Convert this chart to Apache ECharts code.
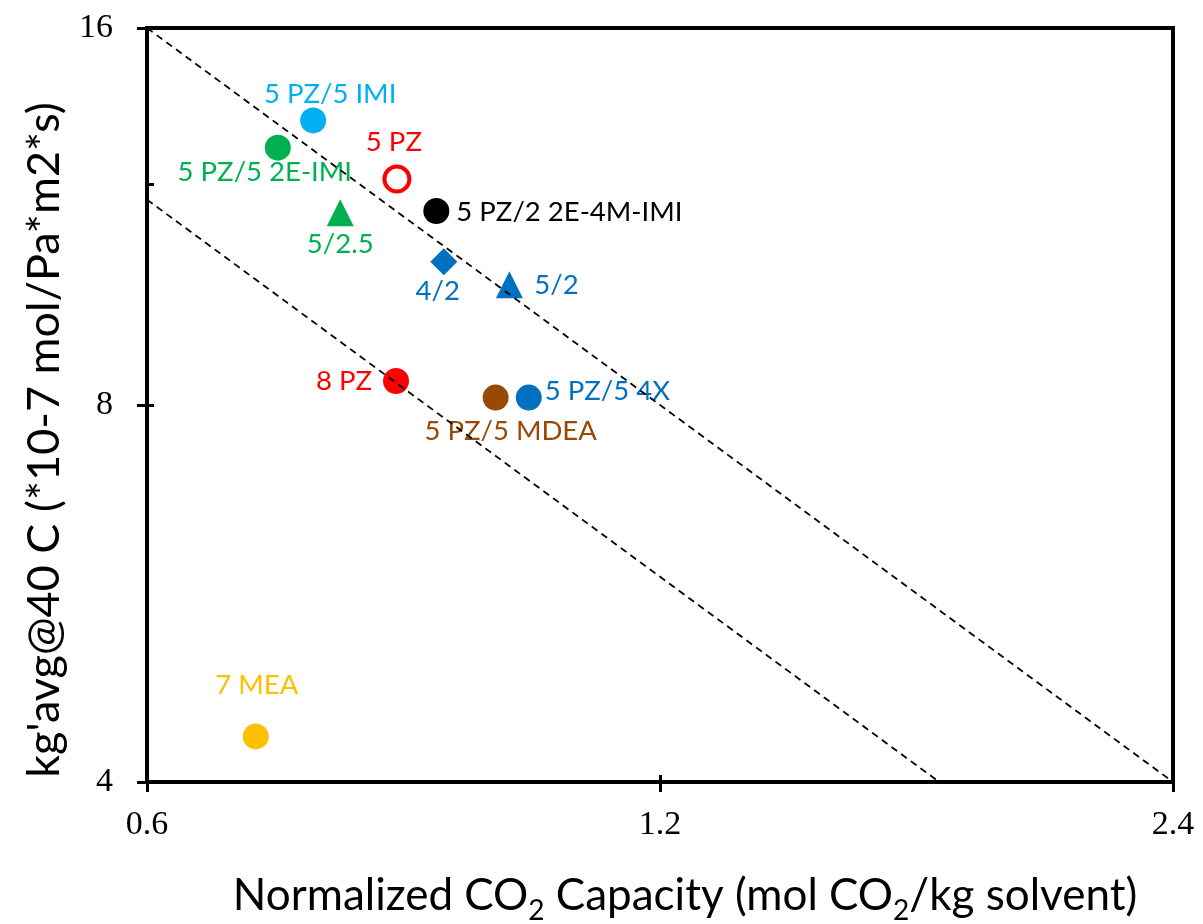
<!DOCTYPE html>
<html>
<head>
<meta charset="utf-8">
<script src="https://cdn.jsdelivr.net/npm/echarts@6.0.0/dist/echarts.min.js"></script>
<style>
  html, body { margin: 0; padding: 0; background: #fff; }
  #chart { width: 1203px; height: 924px; }
</style>
</head>
<body>
<div id="chart"></div>
<script>
// Solvent blends: normalized CO2 capacity vs. average liquid-film mass transfer coefficient
const solvents = ['5 PZ/5 IMI', '5 PZ/5 2E-IMI', '5 PZ', '5 PZ/2 2E-4M-IMI', '5/2.5', '4/2', '5/2', '8 PZ', '5 PZ/5 MDEA', '5 PZ/5 4X', '7 MEA'];
const capacity = [0.751, 0.716, 0.841, 0.887, 0.779, 0.896, 0.979, 0.840, 0.961, 1.005, 0.695];
const kgAvg    = [13.50, 12.84, 12.12, 11.43, 11.39, 10.41, 9.98, 8.36, 8.11, 8.11, 4.35];

// Dashed guide lines (constant capacity x kg'avg)
const upperGuideX = [0.6, 2.4];
const upperGuideY = [16, 4];
const lowerGuideX = [0.6, 1.75];
const lowerGuideY = [11.67, 4];

// Axis ticks
const xTickValues = [0.6, 1.2, 2.4];
const yTickValues = [4, 8, 16];
const xInnerTicks = [1.2];
const yInnerTicks = [8, 12];

// Marker and label appearance per blend
const LABEL_FONT = 'Lato, "Open Sans", sans-serif';
const looks = {
  '5 PZ/5 IMI':       { color: '#00B0F0', symbol: 'circle',   size: 26, offset: [17, -26] },
  '5 PZ/5 2E-IMI':    { color: '#00B050', symbol: 'circle',   size: 26, offset: [-13, 24] },
  '5 PZ':             { color: '#FF0000', symbol: 'circle',   size: 25, offset: [-3, -37], hollow: true },
  '5 PZ/2 2E-4M-IMI': { color: '#000000', symbol: 'circle',   size: 26, offset: [20, 1], align: 'left' },
  '5/2.5':            { color: '#00B050', symbol: 'triangle', size: 27, offset: [0, 31] },
  '4/2':              { color: '#0070C0', symbol: 'diamond',  size: 27, offset: [-6, 29] },
  '5/2':              { color: '#0070C0', symbol: 'triangle', size: 27, offset: [25, 0], align: 'left' },
  '8 PZ':             { color: '#FF0000', symbol: 'circle',   size: 26, offset: [-24, 0], align: 'right' },
  '5 PZ/5 MDEA':      { color: '#984807', symbol: 'circle',   size: 26, offset: [15, 34] },
  '5 PZ/5 4X':        { color: '#0070C0', symbol: 'circle',   size: 26, offset: [16, -6], align: 'left' },
  '7 MEA':            { color: '#FFC000', symbol: 'circle',   size: 26, offset: [1, -51] }
};

const points = solvents.map((name, i) => {
  const s = looks[name];
  return {
    name: name,
    value: [capacity[i], kgAvg[i]],
    symbol: s.symbol,
    symbolSize: s.size,
    itemStyle: s.hollow
      ? { color: 'rgba(255,255,255,0)', borderColor: s.color, borderWidth: 4, opacity: 1 }
      : { color: s.color, opacity: 1 },
    label: {
      show: true,
      position: 'inside',
      formatter: '{b}',
      align: s.align || 'center',
      verticalAlign: 'middle',
      offset: s.offset,
      color: s.color,
      fontFamily: LABEL_FONT,
      fontSize: 27.5
    }
  };
});

const pairs = (xs, ys) => xs.map((x, i) => [x, ys[i]]);
const tickText = v => String(Math.round(v * 10) / 10);
const tickFont = { color: '#000', fontFamily: '"Liberation Serif", "Times New Roman", serif', fontSize: 34 };

const guideLine = (xs, ys) => ({
  type: 'line',
  data: pairs(xs, ys),
  symbol: 'none',
  silent: true,
  z: 5,
  lineStyle: { color: '#000', width: 1.8, type: [7, 5] }
});

const chart = echarts.init(document.getElementById('chart'), null, { renderer: 'canvas' });
chart.setOption({
  animation: false,
  backgroundColor: '#fff',
  grid: {
    left: 147, right: 30, top: 28, bottom: 142,
    show: true, borderColor: '#000', borderWidth: 4, backgroundColor: 'transparent'
  },
  xAxis: [{
    type: 'log', logBase: 2, min: 0.6, max: 2.4,
    axisLine: { show: true, onZero: false, lineStyle: { color: '#000', width: 4 } },
    axisTick: { show: true, inside: false, length: 10, customValues: xTickValues, lineStyle: { color: '#000', width: 3 } },
    axisLabel: Object.assign({ customValues: xTickValues, margin: 26, formatter: tickText }, tickFont),
    splitLine: { show: false }
  }, {
    type: 'log', logBase: 2, min: 0.6, max: 2.4, position: 'bottom',
    axisLine: { show: false, onZero: false },
    axisTick: { show: true, inside: true, length: 7, customValues: xInnerTicks, lineStyle: { color: '#000', width: 3 } },
    axisLabel: { show: false },
    splitLine: { show: false }
  }],
  yAxis: [{
    type: 'log', logBase: 2, min: 4, max: 16,
    axisLine: { show: true, onZero: false, lineStyle: { color: '#000', width: 4 } },
    axisTick: { show: true, inside: false, length: 10, customValues: yTickValues, lineStyle: { color: '#000', width: 3 } },
    axisLabel: Object.assign({ customValues: yTickValues, margin: 34, formatter: tickText }, tickFont),
    splitLine: { show: false }
  }, {
    type: 'log', logBase: 2, min: 4, max: 16, position: 'left',
    axisLine: { show: false, onZero: false },
    axisTick: { show: true, inside: true, length: 7, customValues: yInnerTicks, lineStyle: { color: '#000', width: 3 } },
    axisLabel: { show: false },
    splitLine: { show: false }
  }],
  series: [
    {
      type: 'scatter',
      data: points,
      z: 3
    },
    guideLine(upperGuideX, upperGuideY),
    guideLine(lowerGuideX, lowerGuideY)
  ],
  graphic: [
    {
      type: 'text',
      x: 44, y: 440,
      rotation: Math.PI / 2,
      style: {
        text: "kg'avg@40 C (*10-7 mol/Pa*m2*s)",
        fill: '#000',
        font: '45px ' + LABEL_FONT,
        align: 'center',
        verticalAlign: 'middle'
      }
    },
    {
      type: 'text',
      x: 685, y: 896,
      style: {
        text: '{a|Normalized CO}{s|2}{a| Capacity (mol CO}{s|2}{a|/kg solvent)}',
        align: 'center',
        verticalAlign: 'middle',
        rich: {
          a: { fontSize: 44, fontFamily: LABEL_FONT, color: '#000', lineHeight: 58, verticalAlign: 'middle' },
          s: { fontSize: 28, fontFamily: LABEL_FONT, color: '#000', lineHeight: 28, verticalAlign: 'bottom' }
        }
      }
    }
  ]
});
</script>
</body>
</html>
